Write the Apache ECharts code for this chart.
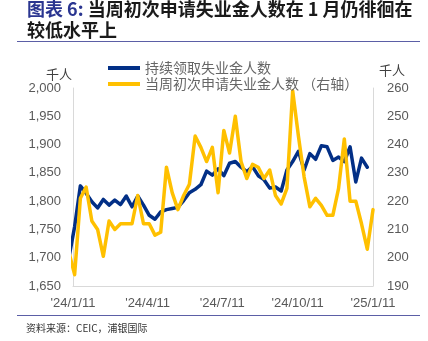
<!DOCTYPE html>
<html>
<head>
<meta charset="utf-8">
<script src="https://cdn.jsdelivr.net/npm/echarts@6/dist/echarts.min.js"></script>
<style>
  html, body { margin: 0; padding: 0; background: #fff; }
  #chart { width: 428px; height: 341px; }
</style>
</head>
<body>
<div id="chart"></div>
<script>
// Week-ending dates (Saturdays)
const weeks = [
  '2024-01-06','2024-01-13','2024-01-20','2024-01-27','2024-02-03','2024-02-10','2024-02-17','2024-02-24',
  '2024-03-02','2024-03-09','2024-03-16','2024-03-23','2024-03-30','2024-04-06','2024-04-13','2024-04-20',
  '2024-04-27','2024-05-04','2024-05-11','2024-05-18','2024-05-25','2024-06-01','2024-06-08','2024-06-15',
  '2024-06-22','2024-06-29','2024-07-06','2024-07-13','2024-07-20','2024-07-27','2024-08-03','2024-08-10',
  '2024-08-17','2024-08-24','2024-08-31','2024-09-07','2024-09-14','2024-09-21','2024-09-28','2024-10-05',
  '2024-10-12','2024-10-19','2024-10-26','2024-11-02','2024-11-09','2024-11-16','2024-11-23','2024-11-30',
  '2024-12-07','2024-12-14','2024-12-21','2024-12-28','2025-01-04','2025-01-11'
];

// Continuing claims, thousands (left axis)
const continuing = [
  1700, 1755, 1827, 1814, 1799, 1788, 1803, 1793,
  1802, 1794, 1809, 1790, 1809, 1793, 1775, 1768,
  1781, 1785, 1787, 1789, 1801, 1815, 1821, 1829,
  1853, 1846, 1857, 1845, 1867, 1870, 1860, 1852,
  1861, 1845, 1838, 1823, 1825, 1818, 1855, 1870,
  1888, 1855, 1884, 1874, 1898, 1896, 1872, 1878,
  1870, 1896, 1834, 1876, 1860
];

// Initial claims, thousands (right axis)
const initial = [
  202, 194, 221, 225, 213, 210, 200.5, 213,
  210, 212, 212, 212, 222, 212, 212, 208,
  209, 232, 223, 217, 222, 226, 243, 239,
  234, 239, 223, 245, 237, 250, 234, 228,
  233, 232, 228, 231, 222, 219, 224.5, 259,
  243, 228.5, 218, 221, 218.5, 215, 215, 224.5,
  242, 220, 220, 212, 203, 217
];

const tickDates = ['2024-01-11', '2024-04-11', '2024-07-11', '2024-10-11', '2025-01-11'];
const tickLabels = ["'24/1/11", "'24/4/11", "'24/7/11", "'24/10/11", "'25/1/11"];

const seriesNames = ['持续领取失业金人数', '当周初次申请失业金人数 （右轴）'];

const DAY = 86400000;
function toTs(s) {
  const p = s.split('-').map(Number);
  return Date.UTC(p[0], p[1] - 1, p[2]);
}
// x position as days counted from the first axis date
const origin = toTs(tickDates[0]);
function toDay(s) { return Math.round((toTs(s) - origin) / DAY); }

const tickDays = tickDates.map(toDay);
const labelByDay = {};
tickDays.forEach((d, i) => { labelByDay[d] = tickLabels[i]; });

const latin = 'Liberation Sans, Arial, sans-serif';
const cjk = 'Noto Sans CJK SC, sans-serif';
const axisGray = '#d9d9d9';
const labelGray = '#595959';

const chart = echarts.init(document.getElementById('chart'), null, { renderer: 'canvas' });

chart.setOption({
  animation: false,
  backgroundColor: '#ffffff',
  title: {
    left: 27,
    top: -2,
    padding: 0,
    text: '{a|图表 6:} {b|当周初次申请失业金人数在 1 月仍徘徊在}\n{b|较低水平上}',
    textStyle: {
      fontSize: 18,
      fontWeight: 'bold',
      fontFamily: cjk,
      lineHeight: 21.5,
      rich: {
        a: { fontSize: 18, fontWeight: 'bold', fontFamily: cjk, color: '#2a3590', lineHeight: 21.5 },
        b: { fontSize: 18, fontWeight: 'bold', fontFamily: cjk, color: '#1a1a1a', lineHeight: 21.5 }
      }
    }
  },
  legend: {
    orient: 'vertical',
    left: 103,
    top: 56,
    itemWidth: 32,
    itemHeight: 4,
    itemGap: 2,
    icon: 'rect',
    textStyle: { fontFamily: cjk, fontSize: 14, color: '#666666' },
    data: seriesNames
  },
  grid: { left: 73, right: 55, top: 88, bottom: 55, containLabel: false },
  xAxis: {
    type: 'value',
    min: tickDays[0],
    max: tickDays[tickDays.length - 1],
    axisLine: { show: true, onZero: false, lineStyle: { color: axisGray, width: 1 } },
    axisTick: { show: false },
    splitLine: { show: false },
    axisLabel: {
      customValues: tickDays,
      formatter: (v) => labelByDay[v] || '',
      fontFamily: latin,
      fontSize: 13,
      color: labelGray,
      margin: 11
    }
  },
  yAxis: [
    {
      type: 'value',
      min: 1650,
      max: 2000,
      interval: 50,
      axisLine: { show: true, lineStyle: { color: axisGray, width: 1 } },
      axisTick: { show: false },
      splitLine: { show: false },
      axisLabel: {
        formatter: (v) => v.toLocaleString('en-US'),
        fontFamily: latin,
        fontSize: 13,
        color: labelGray,
        margin: 12
      }
    },
    {
      type: 'value',
      min: 190,
      max: 260,
      interval: 10,
      position: 'right',
      axisLine: { show: true, lineStyle: { color: axisGray, width: 1 } },
      axisTick: { show: false },
      splitLine: { show: false },
      axisLabel: {
        fontFamily: latin,
        fontSize: 13,
        color: labelGray,
        margin: 14
      }
    }
  ],
  series: [
    {
      name: seriesNames[0],
      type: 'line',
      yAxisIndex: 0,
      symbol: 'none',
      clip: true,
      color: '#022f86',
      lineStyle: { width: 3.5, color: '#022f86', join: 'round', cap: 'round' },
      data: continuing.map((v, i) => [toDay(weeks[i]), v])
    },
    {
      name: seriesNames[1],
      type: 'line',
      yAxisIndex: 1,
      symbol: 'none',
      clip: true,
      color: '#ffc000',
      lineStyle: { width: 3.5, color: '#ffc000', join: 'round', cap: 'round' },
      data: initial.map((v, i) => [toDay(weeks[i]), v])
    }
  ],
  graphic: [
    { type: 'line', shape: { x1: 17, y1: 41.5, x2: 420, y2: 41.5 }, style: { stroke: '#5b5ea6', lineWidth: 1 } },
    { type: 'line', shape: { x1: 17, y1: 315.5, x2: 420, y2: 315.5 }, style: { stroke: '#5b5ea6', lineWidth: 1 } },
    { type: 'text', x: 59, y: 74.5, style: { text: '千人', fontFamily: cjk, fontSize: 13, fill: '#404040', align: 'center', verticalAlign: 'middle' } },
    { type: 'text', x: 392, y: 70, style: { text: '千人', fontFamily: cjk, fontSize: 13, fill: '#404040', align: 'center', verticalAlign: 'middle' } },
    { type: 'text', x: 26, y: 328, style: { text: '资料来源：CEIC，浦银国际', fontFamily: cjk, fontSize: 10, fill: '#333333', verticalAlign: 'middle' } }
  ]
});
</script>
</body>
</html>
